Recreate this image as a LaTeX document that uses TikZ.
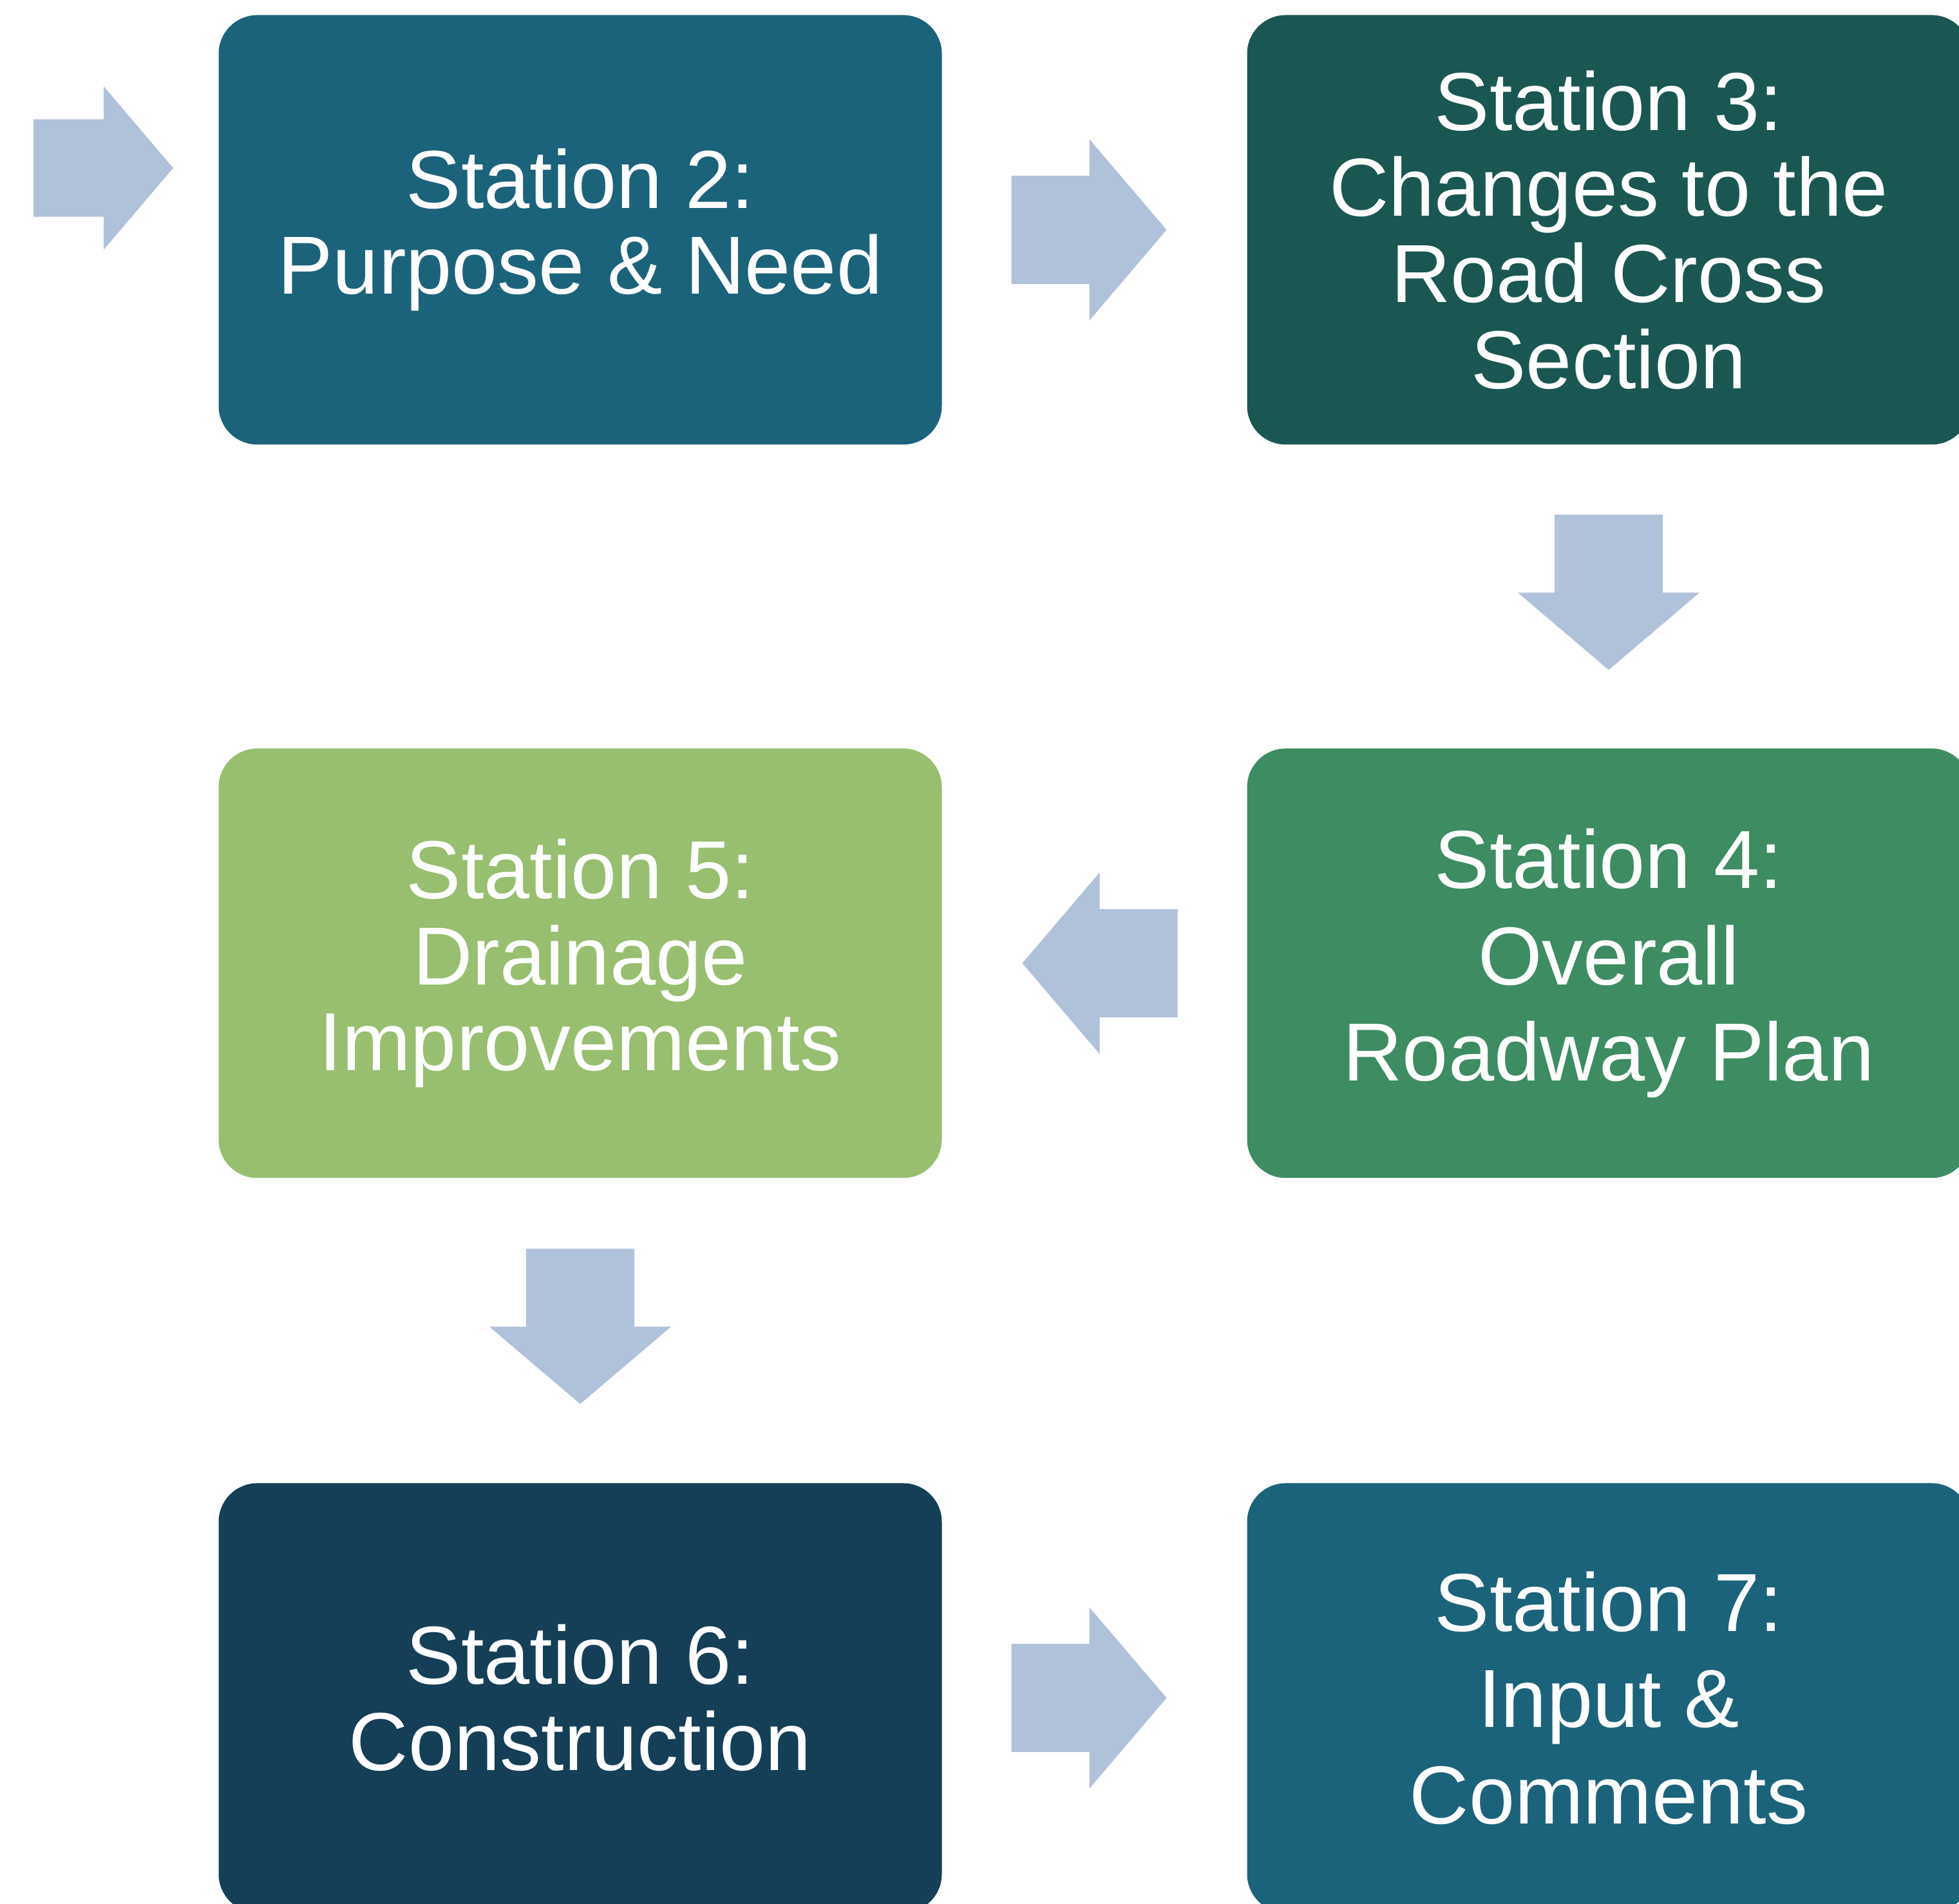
\documentclass[tikz,border=0pt]{standalone}
\usepackage{fontspec}
\setmainfont{Liberation Sans}
\usetikzlibrary{calc}

\definecolor{tealblue}{RGB}{27,99,122}
\definecolor{darkteal}{RGB}{26,87,82}
\definecolor{midgreen}{RGB}{61,140,98}
\definecolor{lightgreen}{RGB}{151,191,111}
\definecolor{navy}{RGB}{20,63,86}
\definecolor{arrowblue}{RGB}{176,194,218}

\begin{document}
\begin{tikzpicture}[
  stationbox/.style={rectangle, rounded corners=0.6cm, inner sep=0pt,
    minimum width=11.23cm, minimum height=6.67cm, text=white,
    align=center, font=\fontsize{36.4}{38}\selectfont},
  widelines/.style={font=\fontsize{36.4}{42.5}\selectfont},
  flowarrow/.pic={
    \fill[arrowblue] (-1.21,-0.84) -- (0,-0.84) -- (0,-1.41) -- (1.2,0)
      -- (0,1.41) -- (0,0.84) -- (-1.21,0.84) -- cycle;
  }]
  \useasboundingbox (0,0) rectangle (30.42,29.57);

  % stations
  \node [stationbox, fill=tealblue] (s2) at (9.01,26.0)
    {Station 2:\\Purpose \& Need};
  \node [stationbox, fill=darkteal] (s3) at (24.98,26.0)
    {Station 3:\\Changes to the\\Road Cross\\Section};
  \node [stationbox, widelines, fill=midgreen] (s4) at (24.98,14.61)
    {Station 4:\\Overall\\Roadway Plan};
  \node [stationbox, fill=lightgreen] (s5) at (9.01,14.61)
    {Station 5:\\Drainage\\Improvements};
  \node [stationbox, fill=navy] (s6) at (9.01,3.20)
    {Station 6:\\Construction};
  \node [stationbox, widelines, fill=tealblue] (s7) at (24.98,3.20)
    {Station 7:\\Input \&\\Comments};

  % arrows between the stations
  \coordinate (a12) at (1.61,26.96);
  \coordinate (a23) at ($(s2.east)!0.5!(s3.west)+(-0.08,0)$);
  \coordinate (a34) at ($(s3.south)!0.5!(s4.north)+(0,0.06)$);
  \coordinate (a45) at ($(s4.west)!0.5!(s5.east)+(0.08,0)$);
  \coordinate (a56) at ($(s5.south)!0.5!(s6.north)+(0,0.06)$);
  \coordinate (a67) at ($(s6.east)!0.5!(s7.west)+(-0.08,0)$);

  \pic [scale=0.9] at (a12) {flowarrow};
  \pic at (a23) {flowarrow};
  \pic [rotate=-90] at (a34) {flowarrow};
  \pic [rotate=180] at (a45) {flowarrow};
  \pic [rotate=-90] at (a56) {flowarrow};
  \pic at (a67) {flowarrow};
\end{tikzpicture}
\end{document}
